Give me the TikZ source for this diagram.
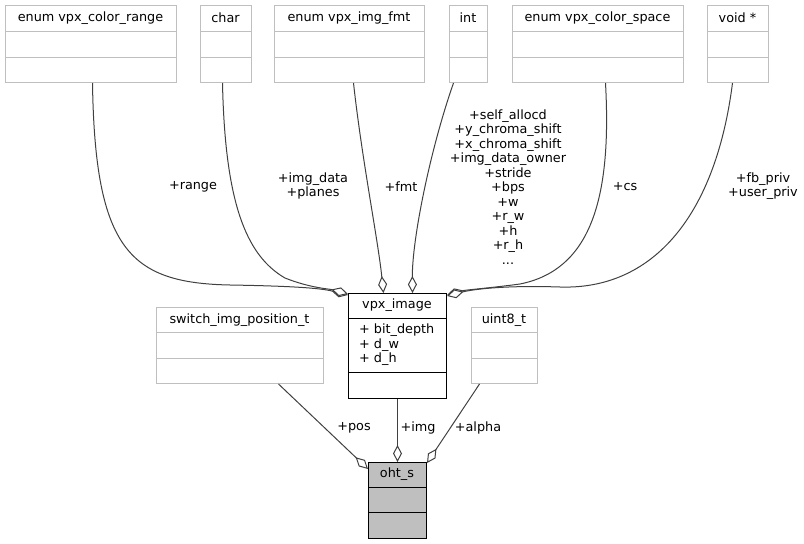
\documentclass[tikz,border=0pt]{standalone}
\usepackage{fontspec}
\setmainfont{DejaVu Sans}
\usetikzlibrary{arrows.meta,calc}
\definecolor{edgec}{HTML}{404040}
\definecolor{lightb}{HTML}{BFBFBF}
\begin{document}
\begin{tikzpicture}[x=1pt,y=-1pt,
  txt/.style={font=\fontsize{12.8}{14.5}\selectfont, inner sep=0pt, text=black},
  lbl/.style={txt, align=center},
  umlbox/.style={draw=lightb, line width=1pt, inner sep=0pt},
  mainbox/.style={draw=black, line width=1pt, inner sep=0pt},
  agg/.style={draw=edgec, line width=1pt, -{Diamond[length=17pt,width=9pt,fill=white]}},
]
\useasboundingbox (0,0) rectangle (804,544);
% helper: box from x1,y1 to x2,y2 with title row bottom d1 and second divider d2
\newcommand{\umlrect}[8]{%
  \node[#8, minimum width={#4-#2}, minimum height={#5-#3}, anchor=north west] (#1) at (#2,#3) {};
  \draw[#8] (#2,#6) -- (#4,#6);
  \draw[#8] (#2,#7) -- (#4,#7);
}
% top row
\umlrect{range}{5}{5}{176}{82}{31}{57}{umlbox}
\node[txt] (rangeT) at (90.5,18) {enum vpx\_color\_range};
\umlrect{char}{200}{5}{251}{82}{31}{57}{umlbox}
\node[txt] (charT) at (225.5,18) {char};
\umlrect{fmt}{274}{5}{424}{82}{31}{57}{umlbox}
\node[txt] (fmtT) at (349,18) {enum vpx\_img\_fmt};
\umlrect{int}{449}{5}{487}{82}{31}{57}{umlbox}
\node[txt] (intT) at (468,18) {int};
\umlrect{cs}{512}{5}{683}{82}{31}{57}{umlbox}
\node[txt] (csT) at (597.5,18) {enum vpx\_color\_space};
\umlrect{void}{707}{5}{768}{82}{31}{57}{umlbox}
\node[txt] (voidT) at (737.5,18) {void *};
% middle row
\umlrect{sw}{156}{307}{323}{383}{332}{358}{umlbox}
\node[txt] (swT) at (239.5,320) {switch\_img\_position\_t};
\umlrect{u8}{471}{307}{537}{383}{332}{358}{umlbox}
\node[txt] (u8T) at (504,320) {uint8\_t};
\umlrect{vpx}{348}{293}{446}{398}{318}{372}{mainbox}
\node[txt] (vpxT) at (397,305.5) {vpx\_image};
\node[txt, anchor=north west, align=left] (vpxA) at (359,324) {+ bit\_depth\\+ d\_w\\+ d\_h};
% bottom
\fill[lightb] (368,462) rectangle (426,538);
\umlrect{oht}{368}{462}{426}{538}{487}{512}{mainbox}
\node[txt] (ohtT) at (397,474.5) {oht\_s};
% connectors top
\draw[agg] ([xshift=1.5]range.south) .. controls (95,250) and (130,283) .. (230,285) .. controls (290,286) and (320,288) .. ([yshift=-2]vpx.north west);
\draw[agg] ([xshift=-3.5]char.south) .. controls (225,200) and (245,255) .. (285,278) .. controls (310,288) and (330,289) .. ([yshift=-1]vpx.north west);
\draw[agg] ([xshift=4]fmt.south) .. controls (362,160) and (378,240) .. ([xshift=-14]vpx.north);
\draw[agg] ([xshift=-15]int.south) .. controls (430,150) and (412,240) .. ([xshift=15]vpx.north);
\draw[agg] ([xshift=7.5]cs.south) .. controls (612,200) and (590,270) .. (520,284) .. controls (490,288) and (465,290) .. ([yshift=-2]vpx.north east);
\draw[agg] ([xshift=-5.5]void.south) .. controls (715,220) and (650,290) .. (560,287) .. controls (500,285) and (470,290) .. ([yshift=-3]vpx.north east);
% connectors bottom
\draw[agg] ([xshift=38.5]sw.south) -- ([yshift=-7]oht.north west);
\draw[agg] (vpx.south) -- (oht.north);
\draw[agg] ([xshift=-25]u8.south) -- ([yshift=-1]oht.north east);
% labels
\node[lbl] (lrange) at (193,187) {+range};
\node[lbl] (ldata) at (313,186) {+img\_data\\+planes};
\node[lbl] (lfmt) at (401,187) {+fmt};
\node[lbl] (lint) at (508,187) {+self\_allocd\\+y\_chroma\_shift\\+x\_chroma\_shift\\+img\_data\_owner\\+stride\\+bps\\+w\\+r\_w\\+h\\+r\_h\\...};
\node[lbl] (lcs) at (625,187) {+cs};
\node[lbl] (lvoid) at (763,186) {+fb\_priv\\+user\_priv};
\node[lbl] (lpos) at (354,428) {+pos};
\node[lbl] (limg) at (418,428) {+img};
\node[lbl] (lalpha) at (478,428) {+alpha};
\end{tikzpicture}
\end{document}
